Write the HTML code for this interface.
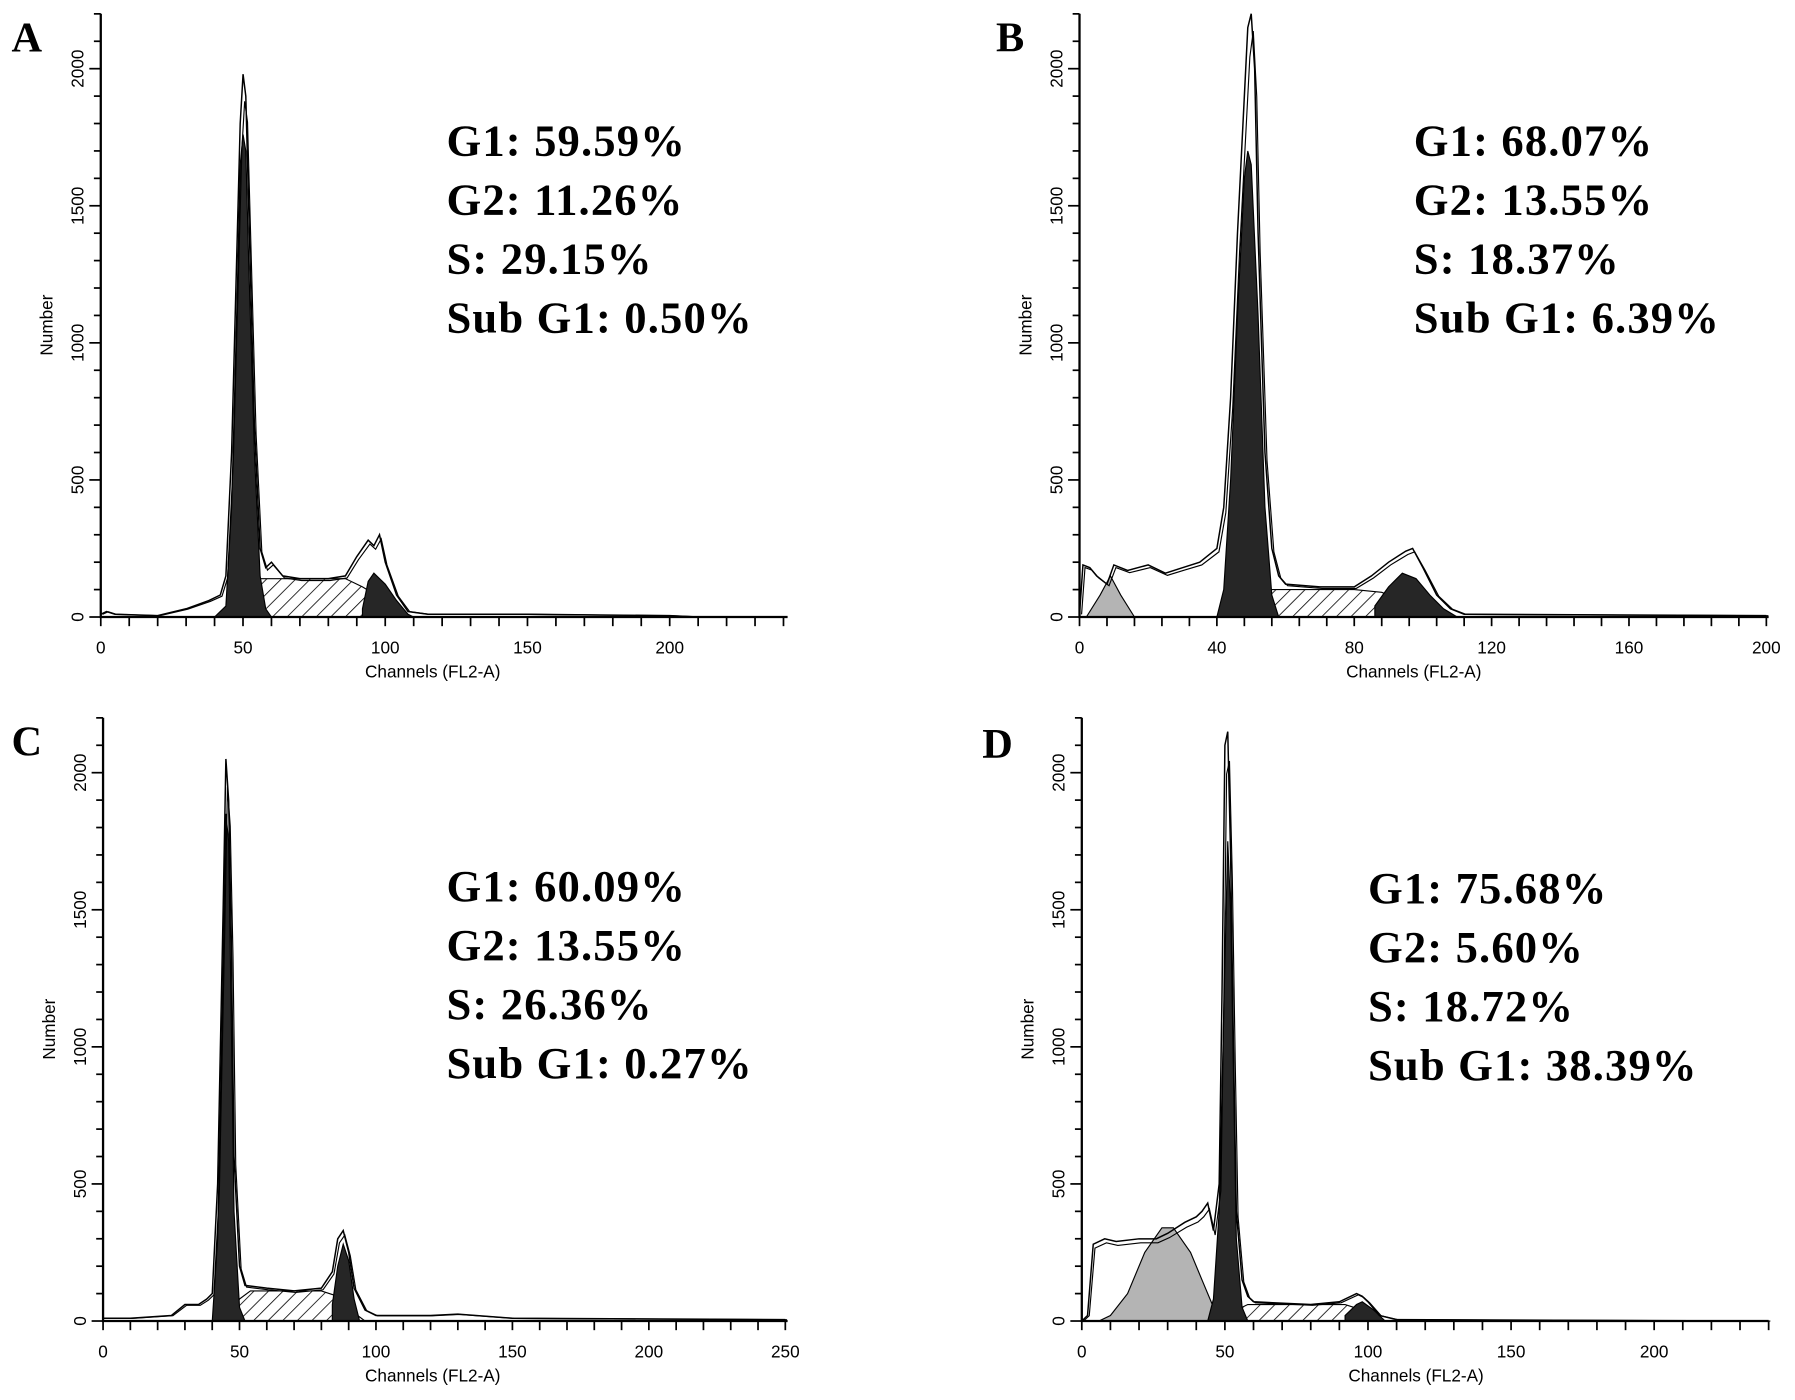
<!DOCTYPE html>
<html><head><meta charset="utf-8">
<style>
html,body{margin:0;padding:0;background:#fff;}
svg{display:block;}
.tl{font-family:"Liberation Sans",sans-serif;font-size:15px;fill:#000;}
.st{font-family:"Liberation Serif",serif;font-weight:bold;font-size:39px;letter-spacing:1px;fill:#000;}
.lt{font-family:"Liberation Serif",serif;font-weight:bold;font-size:37px;fill:#000;}
</style></head>
<body>
<svg id="fig" width="1795" height="1400" viewBox="0 0 1568 1223" xmlns="http://www.w3.org/2000/svg">
<defs>
<pattern id="hatch" patternUnits="userSpaceOnUse" width="9" height="9" patternTransform="rotate(45)">
<rect width="9" height="9" fill="#fff"/><line x1="0" y1="0" x2="0" y2="9" stroke="#000" stroke-width="1.4"/>
</pattern>
</defs>
</svg>
<script>
// Panel A
const aOutline=[[0,10],[2,20],[5,10],[20,5],[30,30],[38,60],[42,80],[44,150],[46,600],[48,1400],[49,1800],[50,1980],[51,1900],[52,1500],[54,700],[56,250],[58,180],[60,200],[64,150],[70,140],[80,140],[86,150],[90,220],[94,280],[96,260],[98,300],[100,200],[104,80],[108,20],[115,10],[150,10],[200,5],[210,0]];
const aG1=[[40,0],[44,40],[46,400],[48,1200],[49,1650],[50,1760],[51,1700],[52,1300],[54,600],[56,150],[58,30],[60,0]];
const aS=[[46,0],[52,80],[56,140],[86,140],[92,110],[100,60],[104,0]];
const aG2=[[92,30],[94,130],[96,160],[100,120],[104,60],[108,10],[110,0]];
const aSub=[];
const aStats=["G1: 59.59%","G2: 11.26%","S: 29.15%","Sub G1: 0.50%"];
// Panel B
const bOutline=[[0,10],[1,190],[3,180],[5,150],[8,120],[10,190],[14,170],[20,190],[25,160],[30,180],[35,200],[38,230],[40,250],[42,400],[44,800],[46,1400],[48,1900],[49,2150],[50,2250],[51,2000],[52,1400],[54,600],[56,250],[58,150],[60,120],[70,110],[80,110],[85,150],[90,200],[95,240],[97,250],[100,180],[104,80],[108,30],[112,10],[200,5]];
const bG1=[[40,0],[42,100],[44,500],[46,1100],[48,1600],[49,1700],[50,1650],[52,1100],[54,400],[56,80],[58,0]];
const bS=[[44,0],[50,60],[56,100],[80,100],[88,90],[96,50],[102,0]];
const bG2=[[86,40],[90,110],[94,160],[98,140],[102,80],[106,30],[110,0]];
const bSub=[[2,0],[6,80],[9,150],[12,80],[16,0]];
const bStats=["G1: 68.07%","G2: 13.55%","S: 18.37%","Sub G1: 6.39%"];
// Panel C
const cOutline=[[0,10],[10,10],[25,20],[30,60],[35,60],[38,80],[40,100],[42,500],[44,1500],[45,2050],[46,1900],[47,1400],[48,600],[50,200],[52,130],[60,120],[70,110],[80,120],[84,180],[86,300],[88,330],[90,250],[92,120],[96,40],[100,20],[120,20],[130,25],[150,10],[250,5]];
const cG1=[[40,0],[42,300],[44,1300],[45,1850],[46,1750],[47,1100],[48,400],[50,50],[52,0]];
const cS=[[46,0],[50,80],[54,110],[80,110],[86,90],[92,30],[96,0]];
const cG2=[[84,60],[86,200],[88,280],[90,220],[92,80],[94,0]];
const cSub=[];
const cStats=["G1: 60.09%","G2: 13.55%","S: 26.36%","Sub G1: 0.27%"];
// Panel D
const dOutline=[[0,0],[2,20],[4,280],[8,300],[12,290],[20,300],[26,300],[30,320],[36,360],[40,380],[42,400],[44,430],[46,330],[48,500],[49,1200],[50,2100],[51,2150],[52,1700],[53,1000],[54,400],[56,150],[58,90],[60,70],[80,60],[90,70],[96,100],[98,90],[100,70],[104,20],[110,5],[240,0]];
const dSub=[[6,0],[10,20],[16,100],[22,250],[28,340],[32,340],[38,250],[42,150],[46,50],[48,0]];
const dG1=[[44,0],[46,80],[48,400],[50,1300],[51,1750],[52,1500],[53,900],[54,300],[56,50],[58,0]];
const dS=[[48,0],[54,40],[58,60],[92,60],[98,40],[104,0]];
const dG2=[[92,20],[96,60],[98,70],[102,40],[106,0]];
const dStats=["G1: 75.68%","G2: 5.60%","S: 18.72%","Sub G1: 38.39%"];

const yTicks=[0,500,1000,1500,2000];
const aXTicks=[0,50,100,150,200], bXTicks=[0,40,80,120,160,200], cXTicks=[0,50,100,150,200,250], dXTicks=[0,50,100,150,200];

const svg=document.getElementById('fig');
const NS='http://www.w3.org/2000/svg';
function mk(tag,attrs,parent){const e=document.createElementNS(NS,tag);for(const k in attrs)e.setAttribute(k,attrs[k]);parent.appendChild(e);return e;}

function panel(cfg){
  const g=mk('g',{},svg);
  
  
  const X=c=>cfg.x0+c*cfg.pxc;
  const Y=v=>cfg.y0-v*cfg.pxv;
  const pts=arr=>arr.map(p=>X(p[0]).toFixed(1)+','+Math.max(Y(p[1]),cfg.yTop).toFixed(1)).join(' ');
  function area(arr,fill,name){
    if(!arr.length)return;
    const p=mk('polygon',{points:pts(arr)+' '+X(arr[arr.length-1][0])+','+cfg.y0+' '+X(arr[0][0])+','+cfg.y0,fill:fill,stroke:'#000','stroke-width':1},g);
    
    
  }
  area(cfg.sub,'#b4b4b4','subg1-area');
  area(cfg.s,'url(#hatch)','s-phase-area');
  area(cfg.g1,'#262626','g1-peak');
  area(cfg.g2,'#262626','g2-peak');
  const o=mk('polyline',{points:pts(cfg.outline),fill:'none',stroke:'#000','stroke-width':1.3},g);
  
  
  const o2=mk('polyline',{points:pts(cfg.outline.map(p=>[p[0]+0.6,p[1]*0.95])),fill:'none',stroke:'#000','stroke-width':1},g);
  
  
  const ax=mk('path',{d:`M${cfg.x0},${cfg.yTop}V${cfg.y0}H${cfg.xEnd}`,stroke:'#000','stroke-width':2,fill:'none'},g);
  
  
  for(let v=0;Y(v)>=cfg.yTop;v+=100){const maj=v%500===0;mk('line',{x1:cfg.x0-(maj?10:6),x2:cfg.x0,y1:Y(v),y2:Y(v),stroke:'#000','stroke-width':1.5},g);}
  yTicks.forEach(v=>{const t=mk('text',{class:'tl',transform:`translate(${cfg.x0-15},${Y(v)}) rotate(-90)`,'text-anchor':'middle'},g);t.textContent=v;
    });
  for(let c=0;X(c)<=cfg.xEnd;c+=cfg.minor){mk('line',{x1:X(c),x2:X(c),y1:cfg.y0,y2:cfg.y0+8,stroke:'#000','stroke-width':1.5},g);}
  cfg.xt.forEach(v=>{const t=mk('text',{class:'tl',x:X(v),y:cfg.y0+32,'text-anchor':'middle'},g);t.textContent=v;
    });
  const xl=mk('text',{class:'tl',x:cfg.xl,y:cfg.y0+53,'text-anchor':'middle','font-size':'19'},g);xl.textContent='Channels (FL2-A)';
  
  const yl=mk('text',{class:'tl',transform:`translate(${cfg.x0-42},${cfg.y0-255}) rotate(-90)`,'text-anchor':'middle','font-size':'16'},g);yl.textContent='Number';
  
  const L=mk('text',{class:'lt',x:cfg.lx,y:cfg.ly},g);L.textContent=cfg.id;
  
  cfg.stats.forEach((s,i)=>{const t=mk('text',{class:'st',x:cfg.sx,y:cfg.sy+i*51.5},g);t.textContent=s;
    });
}
const pv=119.75/500;
panel({id:'A',x0:88,y0:539,yTop:12,xEnd:688,pxc:2.485,pxv:pv,minor:10,xt:aXTicks,outline:aOutline,g1:aG1,s:aS,g2:aG2,sub:aSub,stats:aStats,sx:390,sy:136,lx:10,ly:45,xl:378});
panel({id:'B',x0:943,y0:539,yTop:12,xEnd:1545,pxc:3.0,pxv:pv,minor:8,xt:bXTicks,outline:bOutline,g1:bG1,s:bS,g2:bG2,sub:bSub,stats:bStats,sx:1235,sy:136,lx:870,ly:45,xl:1235});
panel({id:'C',x0:90,y0:1154,yTop:627,xEnd:688,pxc:2.384,pxv:pv,minor:10,xt:cXTicks,outline:cOutline,g1:cG1,s:cS,g2:cG2,sub:cSub,stats:cStats,sx:390,sy:787,lx:10,ly:660,xl:378});
panel({id:'D',x0:945,y0:1154,yTop:627,xEnd:1545,pxc:2.5,pxv:pv,minor:10,xt:dXTicks,outline:dOutline,g1:dG1,s:dS,g2:dG2,sub:dSub,stats:dStats,sx:1195,sy:789,lx:858,ly:662,xl:1237});
</script>
</body></html>
